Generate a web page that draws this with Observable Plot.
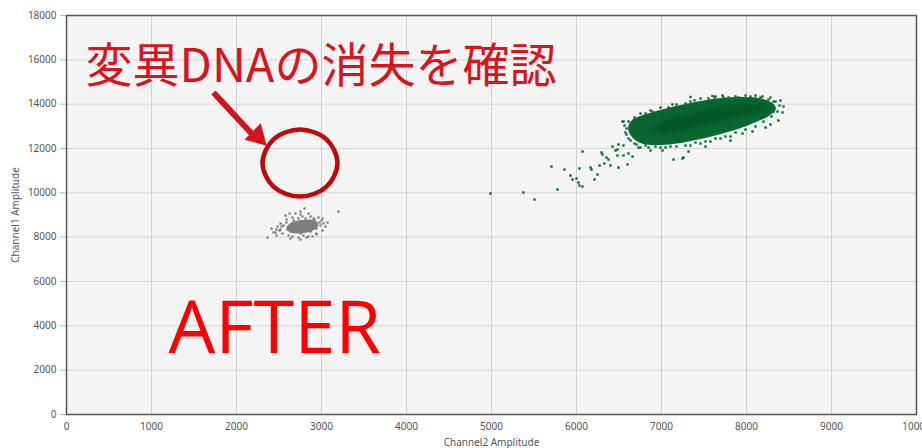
<!DOCTYPE html>
<html>
<head>
<meta charset="utf-8">
<script src="https://cdn.jsdelivr.net/npm/d3@7"></script>
<script src="https://cdn.jsdelivr.net/npm/@observablehq/plot@0.6"></script>
<style>
  html, body { margin: 0; padding: 0; background: #ffffff; }
  #chart svg { display: block; }
</style>
</head>
<body>
<div id="chart"></div>
<script>
// ---- Data (Channel2 amplitude, Channel1 amplitude) ----
const xTicks = [0, 1000, 2000, 3000, 4000, 5000, 6000, 7000, 8000, 9000, 10000];
const yTicks = [0, 2000, 4000, 6000, 8000, 10000, 12000, 14000, 16000, 18000];

// wild-type (green) cluster: dense body outline and darker core outline
const greenBody = [
  [6624,12947],[6671,13262],[6788,13443],[6988,13668],[7224,13894],[7459,14074],
  [7694,14210],[7929,14255],[8141,14210],[8282,14029],[8329,13804],[8259,13533],
  [8106,13262],[7929,12992],[7694,12721],[7459,12496],[7224,12315],[6988,12225],
  [6788,12270],[6671,12541]
];
const greenCore = [
  [6900,12900],[7047,13250],[7341,13560],[7694,13820],[8000,13980],[8200,13930],
  [8150,13700],[7900,13430],[7576,13150],[7224,12830],[7000,12700]
];
// individual green droplets (edge speckle and the rain tail)
const greenDots = [
  [4988,9969],[5376,10015],[5506,9699],[5706,11187],[5776,10150],[5859,11052],
  [5929,10781],[5953,10601],[6000,10646],[6024,10466],[6035,11097],[6035,10330],
  [6071,10285],[6071,11864],[6165,11142],[6176,11052],[6212,10601],[6247,10826],
  [6271,11232],[6294,11819],[6306,11729],[6329,11323],[6353,11593],[6376,11503],
  [6400,11232],[6424,12090],[6459,11909],[6482,11684],[6494,12180],[6494,11142],
  [6553,11684],[6553,12135],[6600,11278],[6612,11774],[6659,11638],[6553,13217],
  [6541,13217],[6482,11954],[7141,11503],[7259,11593],[7318,11864],[7247,11548],
  [8318,14119],[8318,13668],[7624,14300],[7729,14300],[7906,14300],
  [6812,12135],[6929,12090],[7047,12045],[7176,12090],[7341,12135],[7459,12225],
  [7576,12315],[7694,12450],[7812,12541],[7953,12676],[8071,12766],[8224,12947],
  [8376,13262],[8424,13623],[8435,13894],[8400,14164],
  [6682,13398],[6753,13578],[6871,13713],[6988,13849],[7129,13984],[7341,14119],
  [7459,14255],[7871,14345],[8106,14390],[8282,14300],[8165,14300],
  [6588,12901],[6576,12721],[6612,12450],[6682,12225],[6729,12045],
  [6812,13578],[6894,13668],[7082,13849],[7176,13985],[7282,14029],[7388,14170],
  [7553,14255],[7635,14345],[7718,14390],[7788,14300],[7988,14390],[8047,14345],
  [8188,14345],[8259,14210],[8341,14119],[8388,13940],[8365,13668],
  [6753,12045],[6847,12044],[6988,12044],[7106,12089],[7282,12135],[7400,12270],
  [7518,12315],[7635,12450],[7753,12541],[7871,12721],[7988,12856],[8106,12992],
  [8200,13217],[8294,13443],[6706,12180],[6635,12360],[6588,12631],[6565,13037],
  [6612,13217],[6871,11909],[7012,11909],[7518,12089],[7812,12360],[8282,13082],
  [7600,14370],[7341,14326]
];

// mutant-negative (gray) cluster
const grayBody = [
  [2600,8435],[2647,8616],[2729,8706],[2835,8751],[2918,8706],[2953,8571],
  [2918,8390],[2824,8255],[2718,8210],[2635,8255]
];
const grayDots = [
  [2800,9293],[3200,9157],[2365,7984],[2824,7984],[2412,8390],[2482,8481],
  [2576,8977],[2659,8887],[2776,8932],[2847,9068],[2906,8842],[2965,8887],
  [3024,8616],[3071,8661],[3012,8300],[2941,8165],[2847,8029],[2729,7984],
  [2612,8074],[2541,8165],[2459,8210],[2518,8616],[2694,9068],[2988,8526],
  [2506,8300],[2753,7894],[2635,7939],[2471,8074],[2894,8029],[3000,8751],
  [2871,8932],[2729,8842],[2588,8796],[2529,8481],[2753,9022],
  [2553,8526],[2600,8345],[2647,8255],[2753,8165],[2871,8255],[2941,8390],
  [2976,8661],[2918,8796],[2812,8842],[2671,8751],[2588,8661],[2518,8345],
  [2471,8345],[2659,8029],[2788,8074],[2941,8120],[3047,8480],[3012,8842],
  [2753,9157],[2624,9068],[2435,8210]
];

// annotation: the empty region where mutant droplets used to be
const emptyRing = [
  [3188,11345],[3059,10276],[2747,9834],[2435,10276],[2306,11345],[2435,12415],
  [2747,12856],[3059,12415]
];
const arrowShaft = [[1729, 14525], [2177, 12676]];
const arrowHead = [2244, 12554];
const titleText = "変異DNAの消失を確認";
const stampText = "AFTER";

const axisFont = "'Noto Sans', 'Open Sans', sans-serif";

const chart = Plot.plot({
  width: 922,
  height: 448,
  marginTop: 15,
  marginBottom: 34,
  marginLeft: 66,
  marginRight: 6,
  style: { fontFamily: axisFont, fontSize: "10px", color: "#555", background: "#fff" },
  x: { domain: [0, 10000] },
  y: { domain: [0, 18000] },
  marks: [
    Plot.frame({ fill: "#f4f4f4", stroke: null }),
    Plot.gridX(xTicks, { stroke: "#cfcfcf", strokeOpacity: 1, strokeWidth: 1 }),
    Plot.gridY(yTicks, { stroke: "#d6d6d6", strokeOpacity: 1, strokeWidth: 1 }),
    Plot.axisX(xTicks, {
      tickSize: 0, tickPadding: 8, tickFormat: d3.format("d"),
      label: "Channel2 Amplitude", labelAnchor: "center", labelOffset: 31, labelArrow: "none"
    }),
    Plot.axisY(yTicks, {
      tickSize: 6, tickPadding: 4, tickFormat: d3.format("d"), stroke: "#bbb",
      label: "Channel1 Amplitude", labelAnchor: "center", labelOffset: 55, labelArrow: "none"
    }),
    // gray cluster
    Plot.line(grayBody, { x: d => d[0], y: d => d[1], curve: "catmull-rom-closed",
      fill: "#7e7e7e", stroke: "#7e7e7e", strokeWidth: 2 }),
    Plot.dot(grayDots, { x: d => d[0], y: d => d[1], symbol: "square", r: 1.25, fill: "#7a7a7a", stroke: null }),
    // green cluster
    Plot.line(greenBody, { x: d => d[0], y: d => d[1], curve: "catmull-rom-closed",
      fill: "#08652f", stroke: "#0a6831", strokeWidth: 3 }),
    Plot.line(greenCore, { x: d => d[0], y: d => d[1], curve: "catmull-rom-closed",
      fill: "#03582a", stroke: "#055d2c", strokeWidth: 5, strokeOpacity: 0.5 }),
    Plot.dot(greenDots, { x: d => d[0], y: d => d[1], symbol: "square", r: 1.35, fill: "#0b6b33", stroke: null }),
    // annotations
    Plot.line(emptyRing, { x: d => d[0], y: d => d[1], curve: "catmull-rom-closed",
      fill: "none", stroke: "#c00808", strokeWidth: 4.5 }),
    Plot.link([arrowShaft], {
      x1: d => d[0][0], y1: d => d[0][1], x2: d => d[1][0], y2: d => d[1][1],
      stroke: "#d4141c", strokeWidth: 6
    }),
    Plot.dot([arrowHead], { x: d => d[0], y: d => d[1], symbol: "triangle", r: 8.6,
      rotate: 135, fill: "#d4141c", stroke: null }),
    Plot.text([titleText], { x: 224, y: 15700, text: d => d, textAnchor: "start",
      fill: "#d8141c", fontSize: 47, fontFamily: "'Noto Sans CJK JP', sans-serif" }),
    Plot.text([stampText], { x: 1200, y: 3830, text: d => d, textAnchor: "start",
      fill: "#ff0000", fontSize: 74, fontFamily: "'Open Sans', 'Noto Sans', sans-serif" }),
    Plot.frame({ stroke: "#555", strokeWidth: 1.5 })
  ]
});
document.getElementById("chart").appendChild(chart);
</script>
</body>
</html>
